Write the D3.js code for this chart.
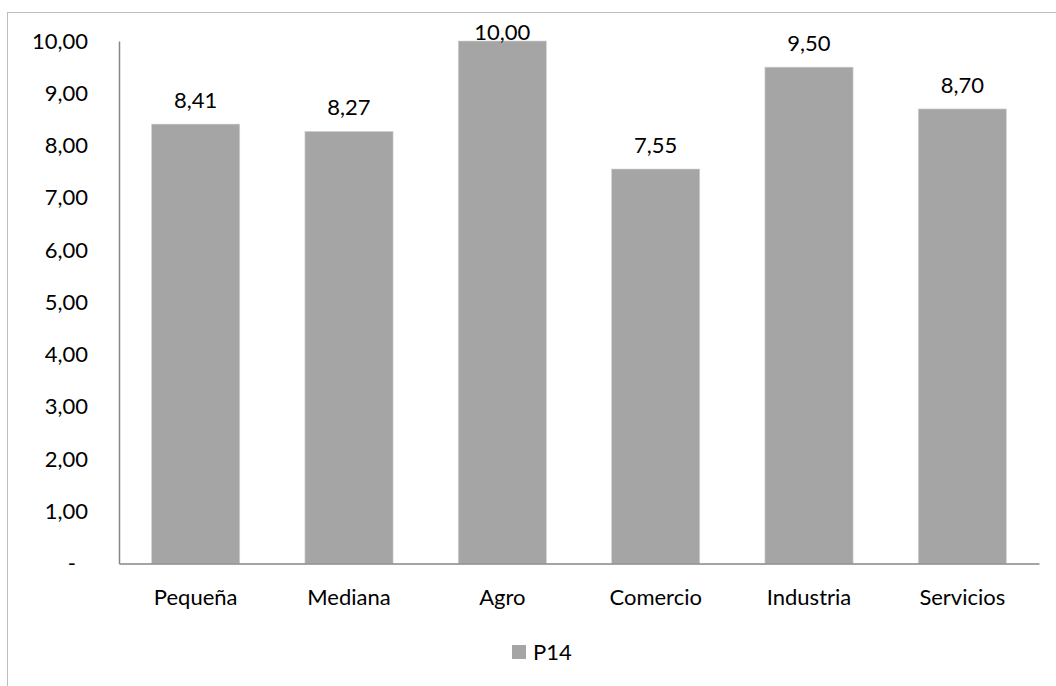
<!DOCTYPE html>
<html>
<head>
<meta charset="utf-8">
<script src="https://cdn.jsdelivr.net/npm/d3@7"></script>
<style>
  html, body { margin: 0; padding: 0; background: #fff; }
  svg { display: block; font-family: Lato, "Open Sans", sans-serif; }
</style>
</head>
<body>
<svg id="chart" width="1056" height="686"></svg>
<script>
// Series P14 by company size and sector
const categories = ["Pequeña", "Mediana", "Agro", "Comercio", "Industria", "Servicios"];
const values = [8.41, 8.27, 10.00, 7.55, 9.50, 8.70];
const yTicks = [0, 1, 2, 3, 4, 5, 6, 7, 8, 9, 10];
const seriesName = "P14";

const fmt = v => v === 0 ? "-" : v.toFixed(2).replace(".", ",");
const FONT = "Lato, \"Open Sans\", sans-serif";
const FS = 22;

const svg = d3.select("#chart");
const W = 1056, H = 686;
const plot = { left: 119, right: 1039, top: 41, bottom: 563.5 };

// chart frame
svg.append("rect")
  .attr("x", 7.5).attr("y", 12.5)
  .attr("width", W + 20).attr("height", H + 20)
  .attr("fill", "none").attr("stroke", "#bdbdbd").attr("stroke-width", 1);

const x = d3.scaleBand().domain(categories).range([plot.left, plot.right]).paddingInner(0.425).paddingOuter(0.2125);
const y = d3.scaleLinear().domain([0, 10]).range([plot.bottom, plot.top]);

// bars
svg.append("g").selectAll("rect").data(values).join("rect")
  .attr("x", (d, i) => x(categories[i]))
  .attr("y", d => y(d))
  .attr("width", x.bandwidth())
  .attr("height", d => y(0) - y(d))
  .attr("fill", "#a5a5a5")
  .attr("stroke", "#d4d4d4").attr("stroke-width", 0.6);

// y axis
const yAxis = d3.axisLeft(y).tickValues(yTicks).tickSize(0).tickPadding(31).tickFormat(fmt);
const gy = svg.append("g").attr("transform", `translate(${plot.left},0)`).call(yAxis);
gy.select(".domain").attr("stroke", "#868686").attr("stroke-width", 1.5);
gy.selectAll("text")
  .attr("font-size", FS).attr("fill", "#000")
  .attr("font-family", FONT)
  .attr("dx", d => d === 0 ? -12 : 0);

// x axis
const xAxis = d3.axisBottom(x).tickSize(0).tickPadding(26);
const gx = svg.append("g").attr("transform", `translate(0,${plot.bottom})`).call(xAxis);
gx.select(".domain").attr("stroke", "#868686").attr("stroke-width", 1.5);
gx.selectAll("text")
  .attr("font-size", FS).attr("fill", "#000")
  .attr("font-family", FONT);

// value labels
svg.append("g").selectAll("text").data(values).join("text")
  .attr("x", (d, i) => x(categories[i]) + x.bandwidth() / 2)
  .attr("y", d => Math.max(y(d) - 16, 40))
  .attr("text-anchor", "middle")
  .attr("font-size", FS).attr("fill", "#000")
  .text(fmt);

// legend
const lg = svg.append("g").attr("transform", "translate(512,645)");
lg.append("rect").attr("width", 14).attr("height", 14).attr("fill", "#a5a5a5");
lg.append("text").attr("x", 21).attr("y", 7).attr("dy", "0.36em")
  .attr("font-size", FS).attr("fill", "#000").text(seriesName);
</script>
</body>
</html>
